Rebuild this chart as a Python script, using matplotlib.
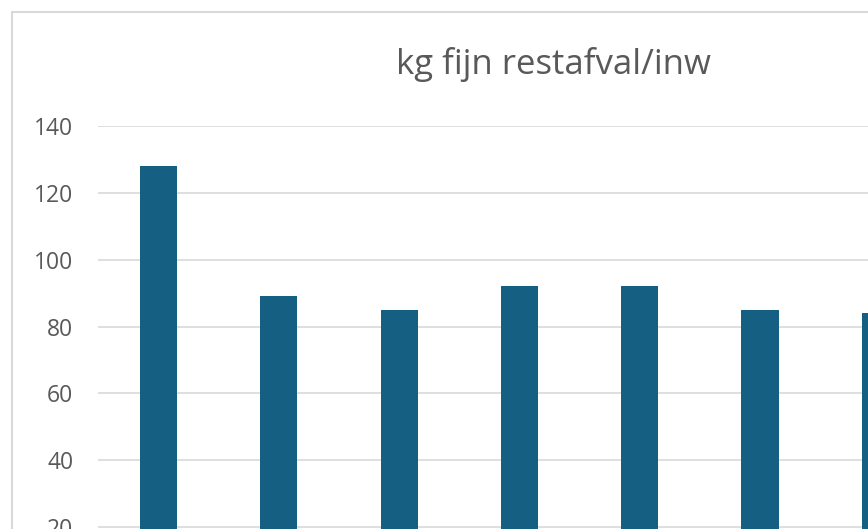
import matplotlib.pyplot as plt
from matplotlib.patches import Rectangle

# data (only the visible part of the chart)
categories = ["1", "2", "3", "4", "5", "6", "7"]
values = [128, 89, 85, 92, 92, 85, 84]
yticks = [20, 40, 60, 80, 100, 120, 140]

W, H = 868, 529
fig = plt.figure(figsize=(W / 100, H / 100), dpi=100)
fig.patch.set_facecolor("white")

# chart frame, runs off the right and bottom edge
fig.patches.append(Rectangle((12 / W, -0.5), 2.0, 1 - 12 / H + 0.5,
                             transform=fig.transFigure, fill=False,
                             edgecolor="#d9d9d9", linewidth=1.5))

# axes positioned so that 0 sits below the picture, 140 at y=126px
left, right = 98.4, 98.4 + 120.3 * len(categories)
top, bottom = 126, 594
ax = fig.add_axes([left / W, 1 - bottom / H, (right - left) / W, (bottom - top) / H])
ax.set_facecolor("none")

x = range(len(categories))
ax.bar(x, values, width=0.31, color="#156082", zorder=3)
ax.set_xlim(-0.5, len(categories) - 0.5)
ax.set_ylim(0, 140)
ax.set_yticks(yticks)
ax.set_yticklabels([str(t) for t in yticks], fontsize=16.5, color="#595959", family="Open Sans")
ax.set_xticks(list(x))
ax.set_xticklabels(categories)
ax.tick_params(axis="y", length=0, pad=18)
# category labels sit below the visible crop
ax.tick_params(axis="x", length=0, labelbottom=False)
ax.grid(axis="y", color="#d9d9d9", linewidth=1.2, zorder=0)
for s in ax.spines.values():
    s.set_visible(False)

fig.text(553 / W, 1 - 65 / H, "kg fijn restafval/inw", ha="center", va="center",
         fontsize=25, color="#595959", family="Open Sans")

fig.savefig("out.png", dpi=100)
